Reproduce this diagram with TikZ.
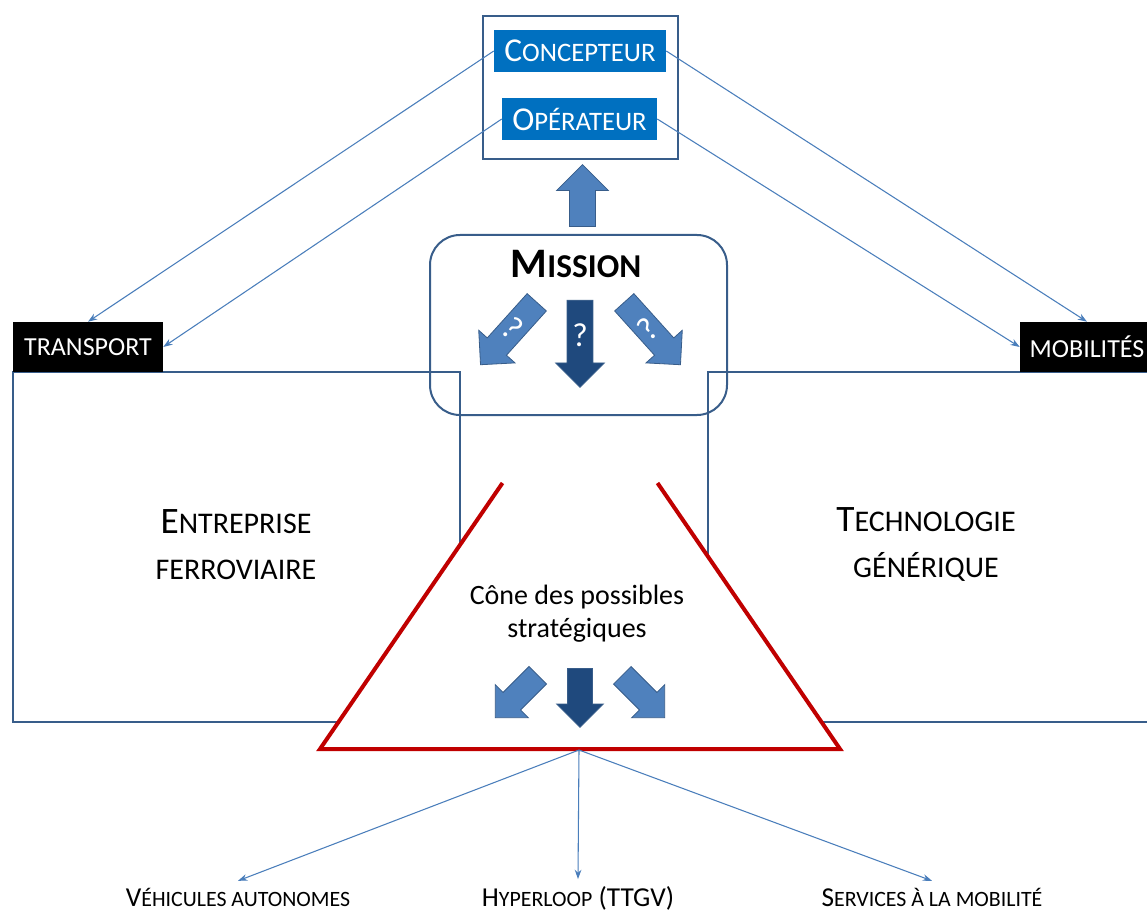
\documentclass[tikz,border=0pt]{standalone}
\usepackage{fontspec}
\setmainfont{Carlito}
\usetikzlibrary{shapes.arrows, arrows.meta, positioning, calc}

\definecolor{framecol}{RGB}{56,93,138}
\definecolor{boxblue}{RGB}{0,112,192}
\definecolor{linkcol}{RGB}{74,126,187}
\definecolor{arrfill}{RGB}{79,129,189}
\definecolor{arrdark}{RGB}{31,73,125}
\definecolor{conered}{RGB}{192,0,0}

% first letter large, rest in smaller capitals
\newcommand{\twosize}[4]{{\fontsize{#1}{#1}\selectfont #3}{\fontsize{#2}{#2}\selectfont #4}}

\begin{document}
\begin{tikzpicture}[
  x=0.75pt, y=-0.75pt,
  frame/.style={draw=framecol, line width=1.5pt},
  rolebox/.style={rectangle, fill=boxblue, text=white, minimum height=31.5pt, inner sep=0pt},
  tagbox/.style={rectangle, fill=black, text=white, minimum height=37.5pt, inner sep=0pt,
    font=\fontsize{19.5}{19.5}\selectfont},
  link/.style={-{Stealth[length=7pt,width=5pt]}, draw=linkcol, line width=0.8pt},
  blockarr/.style={single arrow, single arrow tip angle=90, inner xsep=0pt, inner ysep=9.4pt,
    single arrow head extend=8.6pt, draw=framecol, fill=arrfill, line width=0.6pt},
  darkarr/.style={blockarr, fill=arrdark},
  qmark/.style={text=white, font=\fontsize{25}{25}\selectfont, inner sep=0pt},
  bigtext/.style={align=center, font=\fontsize{22.5}{34.5}\selectfont},
  outcome/.style={font=\fontsize{16.4}{16.4}\selectfont, inner ysep=5pt, anchor=base}
]
\useasboundingbox (0,0) rectangle (1147,913);
\clip (0,0) rectangle (1147,913);

% cadres lateraux
\draw [frame] (13,372) rectangle (460,722);
\draw [frame] (708,372) rectangle (1160,722);

% acteurs
\node (acteurs) [frame, rectangle, minimum width=146.25pt, minimum height=107.25pt] at (580.5,87.5) {};
\node (concepteur) [rolebox, minimum width=129pt] at (580,51) {\twosize{25}{20}{C}{ONCEPTEUR}};
\node (operateur) [rolebox, minimum width=116.25pt] at (579.5,119) {\twosize{25}{20}{O}{PÉRATEUR}};

% mission
\node (mission) [frame, rectangle, rounded corners=22.5pt, minimum width=222.75pt, minimum height=135pt] at (578.5,325) {};
\node (missiontitle) [anchor=base, font=\bfseries] at (576,277) {\twosize{31.5}{25}{M}{ISSION}};
\node (up) [blockarr, rotate=90, anchor=tail, inner ysep=9.4pt, single arrow head extend=9.75pt, minimum height=46.5pt] at (582.5,227) {};

\node (mL) [blockarr, rotate=-132, anchor=tail, minimum height=63pt] at (537,302) {};
\node (mC) [darkarr, rotate=-90, anchor=tail, minimum height=65.25pt] at (580,300) {};
\node (mR) [blockarr, rotate=-48, anchor=tail, minimum height=63pt] at (624,302) {};
\node [qmark, rotate=-42] at ($(mL.tail)!0.42!(mL.tip)$) {?};
\node [qmark] at ($(mC.tail)!0.4!(mC.tip)$) {?};
\node [qmark, rotate=42] at ($(mR.tail)!0.42!(mR.tip)$) {?};

% cone des possibles
\coordinate (coneTL) at (502.5,483);
\coordinate (coneL) at (320,749);
\coordinate (coneR) at (840,749);
\coordinate (coneTR) at (657.5,483);
\coordinate (coneB) at (579,750);
\fill [white] (coneTL) -- (coneL) -- (coneR) -- (coneTR) -- cycle;
\draw [conered, line width=3pt] (coneTL) -- (coneL) -- (coneR) -- (coneTR);

\node (cone) [align=center, font=\fontsize{21}{25}\selectfont] at (577,614) {Cône des possibles\\stratégiques};
\node (cL) [blockarr, rotate=-135, anchor=tail, inner ysep=9pt, single arrow head extend=8.25pt, minimum height=45pt] at (538,675) {};
\node (cC) [darkarr, rotate=-90, anchor=tail, inner ysep=9pt, single arrow head extend=8.25pt, minimum height=44.25pt] at (580,668) {};
\node (cR) [blockarr, rotate=-45, anchor=tail, inner ysep=9pt, single arrow head extend=8.25pt, minimum height=45pt] at (622,675) {};

% domaines
\node (transport) [tagbox, minimum width=112.5pt] at (88,347) {TRANSPORT};
\node (mobilites) [tagbox, minimum width=100.5pt] at (1087,347) {MOBILITÉS};
\node (entreprise) [bigtext] at (236,545) {{\fontsize{28}{34.5}\selectfont E}NTREPRISE\\FERROVIAIRE};
\node (techno) [bigtext] at (926,545) {{\fontsize{28}{34.5}\selectfont T}ECHNOLOGIE\\GÉNÉRIQUE};

% liens
\draw [link] (concepteur.west) -- (transport.north);
\draw [link] (operateur.west) -- (transport.east);
\draw [link] (concepteur.east) -- (mobilites.north);
\draw [link] (operateur.east) -- (mobilites.west);

% issues
\node (vehicules) [outcome] at (238,906) {\twosize{20.5}{16.4}{V}{ÉHICULES AUTONOMES}};
\node (hyperloop) [outcome] at (578,906) {\twosize{20.5}{16.4}{H}{YPERLOOP}{\fontsize{20.5}{20.5}\selectfont{} (TTGV)}};
\node (services) [outcome] at (932,906) {\twosize{20.5}{16.4}{S}{ERVICES À LA MOBILITÉ}};
\draw [link] (coneB) -- (vehicules.north);
\draw [link] (coneB) -- (hyperloop.north);
\draw [link] (coneB) -- (services.north);

\end{tikzpicture}
\end{document}
